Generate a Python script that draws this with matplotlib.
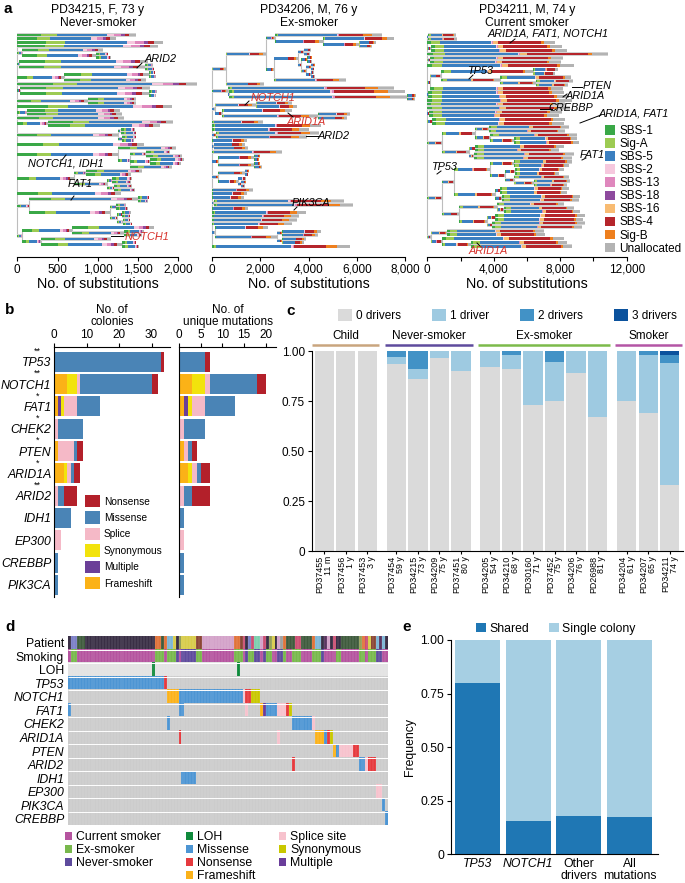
import matplotlib
matplotlib.use("Agg")
import matplotlib.pyplot as plt
import numpy as np
from matplotlib.lines import Line2D
from matplotlib.patches import Patch
from matplotlib.ticker import FuncFormatter, MultipleLocator

W, H = 685, 883

# ---------------- panel a: phylogenies ----------------
sig_names = ["SBS-1", "Sig-A", "SBS-5", "SBS-2", "SBS-13", "SBS-18",
             "SBS-16", "SBS-4", "Sig-B", "Unallocated"]
sig_colors = ["#3aa847", "#9dcb53", "#3b7fc0", "#f6c8de", "#df87bd", "#8e4a9e",
              "#f8bb72", "#b5252b", "#ee7f1e", "#b3b3b3"]

tree_titles = ["PD34215, F, 73 y\nNever-smoker",
               "PD34206, M, 76 y\nEx-smoker",
               "PD34211, M, 74 y\nCurrent smoker"]
tree_xmax = [2000, 8000, 12000]

# branch lengths (no. of substitutions), newick style
tree_never = """(:1480,:1220,:1810,:1750,(:1000,(:150,:180):920):60,
(:1600,(:90,:110):1570):20,((:80,:90):1050,:1020):580,:2230,
(:1620,(:90,:80):1610):30,(:600,:600):880,:1920,(:1150,:1180):120,:1330,
(:1560,:1390):380,((:170,:190):40,(:180,:150):50):1250,:1580,
(:720,((:300,:450):200,(:420,:380):250,:520):150):1250,
((:700,:560):150,((:250,:230):60,(:220,:260):80):420):700,:1290,
((:140,:120):1350,((:120,:140):80,((:110,:100):60,(:90,:120):70):90):1000):150,
((:1020,(:250,:230):640):620,(:870,(:180,:210):1000):240):60)"""

tree_ex = """((((:4450,(:2950,(:700,:550):1500):2000):350,
(((:300,:250):250,((:200,:180):250,((:160,:140):200,(:130,:170):180):200):150):1000,:3000):300):1700,
:1600):550,(:6900,(:7300,(:350,:300):7400):50):650,
((:1500,:1700):1700,(:2900,(:1300,:1200):4000):300):100,:2100,:4500,:4000,
(:4300,:3800):150,:1450,(:1300,:1450):50,:2900,((:250,:200):1500,(:250,:300):1500):250,
((:180,:150):1100,(:350,(:200,:150):150):800):250,:1700,:1450,:1300,(:5400,:5800):50,
:1500,:3900,:3600,:3500,:3300,(:2200,((:1600,:1500):200,(:1000,:900):200):2600):100,:5700)"""

tree_smoker = """((:1700,:1750):30,:7700,(:7900,:8200):200,:10900,(:8000,:7900):150,:8800,
(((:1500,:1350):5500,(:4300,(:2200,:1900):2200):3500):700,:8000):150,
(:8200,:8500):50,:8700,:8300,:8600,(:8000,:7800):100,(:8000,:7900):300,
(((:4800,:4600):800,(:5200,(:3800,:3900):1400):900):2000,
((:5300,:5000):400,(:6000,:5900):300):1600):900,
((((:3500,:3300):1400,((:2900,:2600):600,(:3300,(:2200,:2000):1200):500):900):2200,
((:4100,:4000):300,(:4700,:4600):400):2500):700,
((:4000,(:4200,:4600):400):2300,((:5400,:5300):500,(:5600,:5400):300):1700):1000):900,
((:5800,:5900):1000,(:7300,(:5800,:6100):1700):700):200)"""

tree_newick = [tree_never, tree_ex, tree_smoker]

# signature share of branch length per patient (legend order)
profile_never = [0.20, 0.13, 0.42, 0.06, 0.06, 0.03, 0.00, 0.04, 0.00, 0.06]
profile_ex = [0.015, 0.01, 0.55, 0.01, 0.01, 0.0, 0.0, 0.23, 0.08, 0.095]
profile_smoker = [0.03, 0.07, 0.40, 0.005, 0.005, 0.0, 0.04, 0.34, 0.02, 0.09]
tree_profiles = [profile_never, profile_ex, profile_smoker]

# ---------------- panel b ----------------
b_genes = ["TP53", "NOTCH1", "FAT1", "CHEK2", "PTEN", "ARID1A", "ARID2",
           "IDH1", "EP300", "CREBBP", "PIK3CA"]
b_stars = ["**", "**", "*", "*", "*", "*", "**", "", "", "", ""]
b_types = ["Frameshift", "Multiple", "Synonymous", "Splice", "Missense", "Nonsense"]
b_colors = ["#fbb217", "#6b3f98", "#f2e30c", "#f5b9c7", "#4a84b6", "#b3202a"]

col_frameshift = [0, 4, 1, 0, 1, 3, 0, 0, 0, 0, 0]
col_multiple = [0, 0, 1, 0, 0, 0, 0, 0, 0, 0, 0]
col_synonymous = [0, 3, 1, 0, 0, 1, 0, 0, 0, 0, 0]
col_splice = [0, 1, 4, 1, 5, 1, 1, 0, 2, 0, 0]
col_missense = [33, 22, 7, 8, 1, 1, 2, 5, 0, 1, 1]
col_nonsense = [1, 2, 0, 0, 2, 2, 4, 0, 0, 0, 0]

uni_frameshift = [0, 3, 1, 0, 1, 2, 0, 0, 0, 0, 0]
uni_multiple = [0, 0, 1, 0, 0, 0, 0, 0, 0, 0, 0]
uni_synonymous = [0, 3, 1, 0, 0, 1, 0, 0, 0, 0, 0]
uni_splice = [0, 1, 3, 1, 1, 1, 1, 0, 1, 0, 0]
uni_missense = [6, 11, 7, 5, 1, 1, 2, 1, 0, 1, 1]
uni_nonsense = [1, 2, 0, 0, 1, 2, 4, 0, 0, 0, 0]

# ---------------- panel c ----------------
c_patients = ["PD37455", "PD37456", "PD37453", "PD37454", "PD34215", "PD34209",
              "PD37451", "PD34205", "PD34210", "PD30160", "PD37452", "PD34206",
              "PD26988", "PD34204", "PD34207", "PD34211"]
c_ages = ["11 m", "1 y", "3 y", "59 y", "73 y", "75 y", "80 y", "54 y", "68 y",
          "71 y", "75 y", "76 y", "81 y", "61 y", "65 y", "74 y"]
c_groups = ["Child", "Never-smoker", "Ex-smoker", "Smoker"]
c_group_sizes = [3, 4, 6, 3]
c_group_colors = ["#c9a57e", "#5e4b9d", "#7cba4a", "#b455a5"]
drivers0 = [1, 1, 1, 0.935, 0.86, 0.967, 0.90, 0.92, 0.912, 0.73, 0.752, 0.892,
            0.67, 0.752, 0.688, 0.33]
drivers1 = [0, 0, 0, 0.033, 0.052, 0.033, 0.10, 0.08, 0.068, 0.27, 0.195, 0.108,
            0.33, 0.248, 0.292, 0.612]
drivers2 = [0, 0, 0, 0.032, 0.088, 0, 0, 0, 0.02, 0, 0.053, 0, 0, 0, 0.02, 0.038]
drivers3 = [0, 0, 0, 0, 0, 0, 0, 0, 0, 0, 0, 0, 0, 0, 0, 0.02]
driver_labels = ["0 drivers", "1 driver", "2 drivers", "3 drivers"]
driver_colors = ["#dadada", "#9ecae1", "#4292c6", "#0b529d"]

# ---------------- panel d ----------------
heat_ncol = 110
patient_palette = ["#3a2f45", "#7c80c6", "#3f5b3d", "#e0733a", "#7eb6d6", "#d8cc4a",
                   "#8b4636", "#d3a2c9", "#cc4f73", "#7ccfae", "#95a05a", "#a0a0a0",
                   "#5a3560"]
patient_runs = [(0, 1), (1, 2), (2, 3), (0, 24), (3, 2), (2, 1), (3, 1), (4, 2),
                (5, 1), (0, 1), (10, 1), (5, 5), (6, 2), (7, 11), (3, 2), (6, 1),
                (8, 1), (0, 1), (1, 1), (8, 1), (9, 2), (7, 1), (8, 1), (0, 1),
                (10, 1), (5, 1), (0, 1), (7, 1), (11, 1), (3, 1), (2, 3), (8, 2),
                (2, 4), (3, 1), (4, 2), (0, 1), (12, 1), (7, 1), (0, 1), (8, 1),
                (0, 2), (2, 6), (10, 1), (3, 1), (8, 1), (5, 1), (6, 2), (4, 1),
                (12, 1), (4, 1), (0, 1)]
smoking_runs = [("C", 1), ("E", 2), ("C", 27), ("E", 3), ("C", 1), ("E", 3),
                ("N", 1), ("C", 1), ("N", 5), ("E", 2), ("C", 11), ("E", 3),
                ("C", 1), ("N", 1), ("E", 2), ("N", 2), ("C", 1), ("N", 1),
                ("E", 2), ("C", 2), ("N", 2), ("E", 1), ("C", 2), ("E", 3),
                ("C", 4), ("E", 3), ("N", 1), ("C", 3), ("C", 1), ("E", 2),
                ("C", 6), ("E", 2), ("C", 1), ("E", 3), ("N", 2), ("C", 2)]
smoking_colors = {"C": "#b5549f", "E": "#78b84c", "N": "#5e4b9d"}
loh_cols = [29, 58]

heat_genes = ["TP53", "NOTCH1", "FAT1", "CHEK2", "ARID1A", "PTEN", "ARID2",
              "IDH1", "EP300", "PIK3CA", "CREBBP"]
tp53_muts = [(0, 33, "Missense"), (33, 1, "Nonsense")]
notch1_muts = [(34, 4, "Frameshift"), (38, 22, "Missense"), (60, 1, "Splice site"),
               (61, 2, "Nonsense"), (63, 3, "Synonymous")]
fat1_muts = [(0, 1, "Missense"), (38, 2, "Missense"), (61, 1, "Splice site"),
             (66, 1, "Frameshift"), (67, 1, "Multiple"), (68, 4, "Missense"),
             (72, 3, "Splice site"), (75, 1, "Nonsense"), (76, 1, "Synonymous")]
chek2_muts = [(34, 1, "Missense"), (77, 7, "Missense"), (84, 1, "Splice site")]
arid1a_muts = [(38, 1, "Nonsense"), (72, 1, "Splice site"), (85, 3, "Frameshift"),
               (88, 1, "Missense"), (89, 1, "Nonsense"), (90, 1, "Synonymous")]
pten_muts = [(91, 1, "Frameshift"), (92, 1, "Missense"), (93, 5, "Splice site"),
             (98, 2, "Nonsense")]
arid2_muts = [(77, 1, "Nonsense"), (100, 2, "Missense"), (102, 1, "Splice site"),
              (103, 3, "Nonsense")]
idh1_muts = [(39, 5, "Missense")]
ep300_muts = [(106, 2, "Splice site")]
pik3ca_muts = [(108, 1, "Missense")]
crebbp_muts = [(109, 1, "Missense")]
heat_muts = [tp53_muts, notch1_muts, fat1_muts, chek2_muts, arid1a_muts, pten_muts,
             arid2_muts, idh1_muts, ep300_muts, pik3ca_muts, crebbp_muts]
heat_colors = {"Missense": "#4d95d3", "Nonsense": "#e63a3e", "Frameshift": "#fbb21a",
               "Splice site": "#f7c2cd", "Synonymous": "#c9c800", "Multiple": "#6a3d9a",
               "LOH": "#0f8a3c"}

# ---------------- panel e ----------------
e_labels = ["TP53", "NOTCH1", "Other\ndrivers", "All\nmutations"]
e_shared = [0.80, 0.156, 0.179, 0.174]
e_single = [0.20, 0.844, 0.821, 0.826]


plt.rcParams.update({
    "font.family": ["Liberation Sans", "DejaVu Sans"],
    "font.size": 8.5,
    "axes.linewidth": 0.8,
    "xtick.major.width": 0.8,
    "ytick.major.width": 0.8,
    "xtick.major.size": 3,
    "ytick.major.size": 3,
    "xtick.major.pad": 2,
    "ytick.major.pad": 2,
})


def box(x0, y0, x1, y1):
    return [x0 / W, 1 - y1 / H, (x1 - x0) / W, (y1 - y0) / H]


def fp(x, y):
    return x / W, 1 - y / H


def parse_tree(text):
    s = "".join(text.split())
    pos = 0

    def node():
        nonlocal pos
        kids = []
        if s[pos] == "(":
            pos += 1
            kids.append(node())
            while s[pos] == ",":
                pos += 1
                kids.append(node())
            pos += 1
        length = 0.0
        if pos < len(s) and s[pos] == ":":
            pos += 1
            start = pos
            while pos < len(s) and s[pos] not in ",()":
                pos += 1
            length = float(s[start:pos])
        return length, kids

    return node()


def tree_layout(root):
    branches, joins = [], []
    count = [0]

    def walk(node, x0):
        length, kids = node
        x1 = x0 + length
        if kids:
            ys = [walk(k, x1) for k in kids]
            y = 0.5 * (ys[0] + ys[-1])
            joins.append((x1, ys[0], ys[-1]))
        else:
            y = count[0]
            count[0] += 1
        if length > 0:
            branches.append((y, x0, length))
        return y

    walk(root, 0.0)
    return count[0], branches, joins


fig = plt.figure(figsize=(W / 100, H / 100), dpi=100)

# ---- a ----
tree_boxes = [(17.3, 30, 178.3, 257), (212.3, 30, 405, 257), (427.3, 30, 626.7, 257)]
tree_steps = [500, 2000, 4000]
for i in range(3):
    ax = fig.add_axes(box(*tree_boxes[i]))
    n, branches, joins = tree_layout(parse_tree(tree_newick[i]))
    ys = np.array([b[0] for b in branches])
    x0 = np.array([b[1] for b in branches])
    lengths = np.array([b[2] for b in branches])
    for xj, ya, yb in joins:
        ax.plot([xj, xj], [ya, yb], color="#bdbdbd", lw=0.8, zorder=1,
                solid_capstyle="butt", clip_on=False)
    ax.barh(ys, lengths, left=x0, height=0.92, color="#d2d2d2", lw=0,
            zorder=2, clip_on=False)
    prof = np.array(tree_profiles[i], dtype=float)
    prof = prof / prof.sum()
    left = x0.copy()
    for k, c in enumerate(sig_colors):
        w = lengths * prof[k]
        if prof[k] > 0:
            ax.barh(ys, w, left=left, height=0.66, color=c, lw=0, zorder=3,
                    clip_on=False)
        left = left + w
    ax.set_xlim(0, tree_xmax[i])
    ax.set_ylim(n - 1 + 2.8, -1.3)
    ax.set_yticks([])
    for sp in ("top", "right", "left"):
        ax.spines[sp].set_visible(False)
    ax.xaxis.set_major_locator(MultipleLocator(tree_steps[i]))
    if i == 2:
        ax.xaxis.set_minor_locator(MultipleLocator(2000))
        ax.tick_params(axis="x", which="minor", length=3, width=0.8)
    ax.xaxis.set_major_formatter(FuncFormatter(lambda v, p: f"{v:,.0f}"))
    ax.tick_params(axis="x", labelsize=8.5)
    ax.set_xlabel("No. of substitutions", fontsize=10.3, labelpad=1)
    ax.set_title(tree_titles[i], fontsize=8.7, pad=3, linespacing=1.05)

fig.legend(handles=[Patch(facecolor=c, edgecolor="none") for c in sig_colors],
           labels=sig_names, loc="upper left", bbox_to_anchor=fp(605, 125),
           frameon=False, fontsize=8.5, handlelength=0.85, handleheight=0.85,
           labelspacing=0.09, handletextpad=0.35, borderpad=0, borderaxespad=0)

notes = [
    ("ARID2", "black", (161, 59), ((137, 68), (142, 63))),
    ("NOTCH1, IDH1", "black", (66, 164), ((62, 160), (66, 155))),
    ("FAT1", "black", (80, 184), ((71, 200), (74, 196))),
    ("NOTCH1", "#d7312b", (147, 237), ((111, 236), (123, 236))),
    ("NOTCH1", "#d7312b", (273, 98), ((245, 105), (249, 101))),
    ("ARID1A", "#d7312b", (306, 122), ((288, 113), (293, 117))),
    ("ARID2", "black", (334, 136), ((306, 136), (318, 136))),
    ("PIK3CA", "black", (311, 203), ((294, 210), (297, 207))),
    ("ARID1A, FAT1, NOTCH1", "black", (548, 34), ((510, 43), (515, 39))),
    ("TP53", "black", (480, 71), ((469, 79), (473, 75))),
    ("PTEN", "black", (597, 86), ((572, 87), (582, 87))),
    ("ARID1A", "black", (585, 96), ((563, 97), (567, 94))),
    ("CREBBP", "black", (571, 108), ((540, 109), (552, 109))),
    ("ARID1A, FAT1", "black", (634, 114), ((580, 123), (601, 115))),
    ("FAT1", "black", (592, 155), ((582, 160), (586, 158))),
    ("TP53", "black", (444, 167), ((437, 174), (441, 171))),
    ("ARID1A", "#d7312b", (488, 251), ((477, 243), (481, 247))),
]
for text, color, (tx, ty), line in notes:
    fig.text(*fp(tx, ty), text, color=color, style="italic", fontsize=7.8,
             ha="center", va="center")
    (lx0, ly0), (lx1, ly1) = line
    fig.add_artist(Line2D([lx0 / W, lx1 / W], [1 - ly0 / H, 1 - ly1 / H],
                          color="black", lw=0.7))

# ---- b ----
b_col = [col_frameshift, col_multiple, col_synonymous, col_splice, col_missense, col_nonsense]
b_uni = [uni_frameshift, uni_multiple, uni_synonymous, uni_splice, uni_missense, uni_nonsense]
rows = np.arange(len(b_genes))
axb1 = fig.add_axes(box(54.3, 347, 170, 597))
axb2 = fig.add_axes(box(179.3, 347, 276, 597))
for ax, data, xmax, step, title in [
        (axb1, b_col, 35.7, 10, "No. of\ncolonies"),
        (axb2, b_uni, 22.4, 5, "No. of\nunique mutations")]:
    left = np.zeros(len(b_genes))
    for vals, c in zip(data, b_colors):
        vals = np.array(vals, dtype=float)
        ax.barh(rows, vals, left=left, height=0.9, color=c, lw=0)
        left += vals
    ax.set_xlim(0, xmax)
    ax.set_ylim(10.54, -0.66)
    ax.xaxis.tick_top()
    ax.xaxis.set_label_position("top")
    ax.xaxis.set_major_locator(MultipleLocator(step))
    ax.tick_params(axis="x", labelsize=8.5, pad=1)
    ax.set_xlabel(title, fontsize=8.5, labelpad=3, linespacing=1.0)
    ax.spines["right"].set_visible(False)
    ax.spines["bottom"].set_visible(False)
    ax.set_yticks(rows)
    ax.tick_params(axis="y", length=0)
axb1.set_yticklabels(b_genes, style="italic", fontsize=8.8)
axb2.set_yticklabels([])
for r, s in enumerate(b_stars):
    if s:
        axb1.annotate(s, xy=(0, r), xycoords=("axes fraction", "data"),
                      xytext=(-12, 7.5), textcoords="offset points",
                      ha="center", va="center", fontsize=6.5)
axb1.legend(handles=[Patch(facecolor=c, edgecolor="none") for c in b_colors[::-1]],
            labels=["Nonsense", "Missense", "Splice", "Synonymous", "Multiple", "Frameshift"],
            loc="upper left", bbox_to_anchor=fp(85, 495), bbox_transform=fig.transFigure,
            frameon=False, fontsize=7.3, handlelength=1.5, handleheight=1.5,
            labelspacing=0.4, handletextpad=0.35, borderpad=0, borderaxespad=0)

# ---- c ----
gap = 0.35
xc = []
for g, size in enumerate(c_group_sizes):
    start = sum(c_group_sizes[:g])
    xc += [start + j + g * gap for j in range(size)]
xc = np.array(xc)
axc = fig.add_axes(box(312, 351, 682.7, 551))
bottom = np.zeros(len(xc))
for vals, c in zip([drivers0, drivers1, drivers2, drivers3], driver_colors):
    vals = np.array(vals, dtype=float)
    axc.bar(xc, vals, bottom=bottom, width=0.9, color=c, lw=0)
    bottom += vals
axc.set_xlim(xc[0] - 0.57, xc[-1] + 0.6)
axc.set_ylim(0, 1)
axc.yaxis.set_major_locator(MultipleLocator(0.25))
axc.yaxis.set_major_formatter(FuncFormatter(lambda v, p: "0" if v == 0 else f"{v:.2f}"))
axc.tick_params(axis="y", labelsize=8.5)
axc.set_xticks(xc)
axc.set_xticklabels([f"{p}\n{a}" for p, a in zip(c_patients, c_ages)], rotation=90,
                    fontsize=6.4, linespacing=0.95, multialignment="right")
axc.tick_params(axis="x", length=2, pad=1.5)
axc.spines["top"].set_visible(False)
axc.spines["right"].set_visible(False)
trans = axc.get_xaxis_transform()
for g, size in enumerate(c_group_sizes):
    start = sum(c_group_sizes[:g])
    xa, xb = xc[start] - 0.55, xc[start + size - 1] + 0.55
    axc.plot([xa, xb], [1.03, 1.03], transform=trans, color=c_group_colors[g],
             lw=1.8, clip_on=False, solid_capstyle="butt")
    axc.text((xa + xb) / 2, 1.075, c_groups[g], transform=trans, ha="center",
             va="center", fontsize=8.5)
fig.legend(handles=[Patch(facecolor=c, edgecolor="none") for c in driver_colors],
           labels=driver_labels, loc="upper left", bbox_to_anchor=fp(338, 309),
           ncol=4, frameon=False, fontsize=8.5, handlelength=1.2, handleheight=1.2,
           handletextpad=0.35, columnspacing=2.6, borderpad=0, borderaxespad=0)

# ---- d ----
def to_rgb(c):
    return np.array(matplotlib.colors.to_rgb(c))


img = np.zeros((3 + len(heat_genes), heat_ncol, 3))
col = 0
for p, cnt in patient_runs:
    img[0, col:col + cnt] = to_rgb(patient_palette[p])
    col += cnt
col = 0
for s, cnt in smoking_runs:
    img[1, col:col + cnt] = to_rgb(smoking_colors[s])
    col += cnt
img[2, :] = to_rgb("#e3e3e3")
for c in loh_cols:
    img[2, c] = to_rgb(heat_colors["LOH"])
for g, muts in enumerate(heat_muts):
    img[3 + g, :] = to_rgb("#cccccc")
    for start, cnt, kind in muts:
        img[3 + g, start:start + cnt] = to_rgb(heat_colors[kind])
nrow = img.shape[0]
axd = fig.add_axes(box(68.3, 636, 387.7, 825.5))
axd.imshow(img, aspect="auto", interpolation="nearest",
           extent=(-0.5, heat_ncol - 0.5, nrow - 0.5, -0.5))
axd.vlines(np.arange(heat_ncol - 1) + 0.5, -0.5, nrow - 0.5, color="white",
           lw=0.3, alpha=0.35)
axd.hlines(np.arange(nrow - 1) + 0.5, -0.5, heat_ncol - 0.5, color="white", lw=0.7)
axd.set_xticks([])
axd.set_yticks(np.arange(nrow))
axd.set_yticklabels(["Patient", "Smoking", "LOH"] + heat_genes, fontsize=8.8)
for k, lab in enumerate(axd.get_yticklabels()):
    if k >= 3:
        lab.set_style("italic")
axd.tick_params(axis="y", length=0, pad=3)
for sp in axd.spines.values():
    sp.set_visible(False)

d_leg = [
    (["Current smoker", "Ex-smoker", "Never-smoker"],
     [smoking_colors["C"], smoking_colors["E"], smoking_colors["N"]], 65),
    (["LOH", "Missense", "Nonsense", "Frameshift"],
     [heat_colors[k] for k in ["LOH", "Missense", "Nonsense", "Frameshift"]], 186),
    (["Splice site", "Synonymous", "Multiple"],
     [heat_colors[k] for k in ["Splice site", "Synonymous", "Multiple"]], 279),
]
for labels, colors, xpx in d_leg:
    fig.legend(handles=[Patch(facecolor=c, edgecolor="none") for c in colors],
               labels=labels, loc="upper left", bbox_to_anchor=fp(xpx, 831),
               frameon=False, fontsize=8.8, handlelength=0.6, handleheight=0.6,
               labelspacing=0.08, handletextpad=0.3, borderpad=0, borderaxespad=0)

# ---- e ----
axe = fig.add_axes(box(451, 640, 657.7, 854.3))
xe = np.arange(len(e_labels))
axe.bar(xe, e_shared, width=0.886, color="#1f77b4", lw=0, label="Shared")
axe.bar(xe, e_single, bottom=e_shared, width=0.886, color="#a6cfe3", lw=0,
        label="Single colony")
axe.set_xlim(-0.52, 3.55)
axe.set_ylim(0, 1)
axe.yaxis.set_major_locator(MultipleLocator(0.25))
axe.yaxis.set_major_formatter(FuncFormatter(lambda v, p: "0" if v == 0 else f"{v:.2f}"))
axe.set_xticks(xe)
axe.set_xticklabels(e_labels, fontsize=8.8, linespacing=0.95)
for k, lab in enumerate(axe.get_xticklabels()):
    if k < 2:
        lab.set_style("italic")
axe.tick_params(axis="x", length=0, pad=3)
axe.tick_params(axis="y", labelsize=8.8)
axe.set_ylabel("Frequency", fontsize=8.8, labelpad=3)
axe.spines["top"].set_visible(False)
axe.spines["right"].set_visible(False)
axe.legend(loc="upper left", bbox_to_anchor=fp(476, 623), bbox_transform=fig.transFigure,
           ncol=2, frameon=False, fontsize=8.8, handlelength=0.8, handleheight=0.8,
           handletextpad=0.3, columnspacing=1.6, borderpad=0, borderaxespad=0)

# ---- panel letters ----
for letter, (x, y) in zip("abcde", [(3, 9), (5, 310), (286, 311), (5, 627), (402, 627)]):
    fig.text(*fp(x, y), letter, fontsize=11, fontweight="bold", ha="left", va="center")

fig.savefig("out.png", dpi=100, facecolor="white")
